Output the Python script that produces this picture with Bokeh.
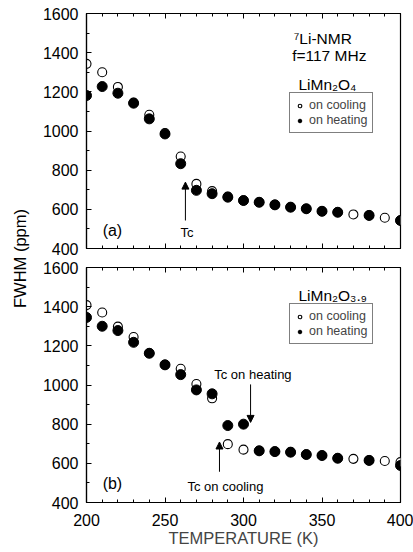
import math
from bokeh.plotting import figure
from bokeh.layouts import row, column
from bokeh.models import (Range1d, Label, Arrow, NormalHead, Legend, LegendItem,
                          LinearAxis, SingleIntervalTicker)
from bokeh.embed import file_html
from bokeh.resources import INLINE

nan = float("nan")

# ---- data ----
temps = [200, 210, 220, 230, 240, 250, 260, 270, 280, 290, 300,
         310, 320, 330, 340, 350, 360, 370, 380, 390, 400]

# (a) LiMn2O4
a_cooling = [1343, 1300, 1225, 1145, 1083, 990, 870, 730, 693, 665, 645,
             636, 623, 611, 603, 590, 585, 574, 569, 557, 543]
a_heating = [1181, 1227, 1193, 1142, 1062, 985, 833, 697, 680, 662, 645,
             636, 623, 611, 603, 590, 585, nan, 569, nan, 543]

# (b) LiMn2O3.9
b_cooling = [1408, 1370, 1298, 1245, 1162, 1103, 1083, 1005, 932, 698, 670,
             664, 660, 657, 645, 640, 626, 623, 615, 612, 606]
b_heating = [1345, 1300, 1278, 1218, 1162, 1103, 1053, 975, 955, 793, 800,
             664, 660, 657, 645, 640, 626, nan, 615, nan, 589]

x_major_ticks = [200, 250, 300, 350, 400]
x_range_vals = (200, 400)
y_range_vals = (400, 1600)
x_tick_step = 50
y_tick_step = 200

FONT = "Liberation Sans"


def style_axis(ax, labels=True, size="16px"):
    ax.major_tick_in = 5
    ax.major_tick_out = 0
    ax.minor_tick_in = 3
    ax.minor_tick_out = 0
    ax.axis_line_color = "black"
    ax.axis_line_width = 1.2
    ax.major_tick_line_color = "black"
    ax.minor_tick_line_color = "black"
    ax.major_label_text_font = FONT
    ax.major_label_text_color = "black"
    if labels:
        ax.major_label_text_font_size = size
    else:
        ax.major_label_text_font_size = "1px"
        ax.major_label_overrides = {t: "" for t in x_major_ticks}
        ax.major_label_standoff = 0


def make_panel(height, btop, bbottom, cooling, heating, show_x):
    p = figure(width=383, height=height,
               x_range=Range1d(*x_range_vals), y_range=Range1d(*y_range_vals),
               output_backend="svg", toolbar_location=None,
               min_border_left=56, min_border_right=13,
               min_border_top=btop, min_border_bottom=bbottom)
    p.grid.visible = False
    p.outline_line_color = "black"
    p.outline_line_width = 1.2
    p.background_fill_color = "white"
    p.border_fill_color = "white"

    p.xaxis.ticker = SingleIntervalTicker(interval=x_tick_step, num_minor_ticks=5)
    p.yaxis.ticker = SingleIntervalTicker(interval=y_tick_step, num_minor_ticks=2)
    style_axis(p.yaxis[0], True)
    p.yaxis.major_label_standoff = 8
    style_axis(p.xaxis[0], show_x)
    if show_x:
        p.xaxis.major_label_standoff = 11
        p.xaxis.axis_label = "TEMPERATURE (K)"
        p.xaxis.axis_label_text_font = FONT
        p.xaxis.axis_label_text_font_style = "normal"
        p.xaxis.axis_label_text_font_size = "16.5px"
        p.xaxis.axis_label_standoff = 0

    top = LinearAxis(ticker=SingleIntervalTicker(interval=x_tick_step, num_minor_ticks=5))
    style_axis(top, False)
    p.add_layout(top, "above")

    r_open = p.scatter(temps, cooling, size=9, marker="circle",
                       fill_color="white", line_color="black", line_width=1.1)
    r_fill = p.scatter(temps, heating, size=10, marker="circle",
                       fill_color="black", line_color="black", line_width=1)
    return p, r_open, r_fill


def add_legend(p, r_open, r_fill, loc):
    leg = Legend(items=[LegendItem(label="on cooling", renderers=[r_open]),
                        LegendItem(label="on heating", renderers=[r_fill])],
                 location=loc, orientation="vertical",
                 label_text_font=FONT, label_text_font_size="12.5px",
                 glyph_width=9, glyph_height=9, label_height=12,
                 label_standoff=5, spacing=1, padding=5, margin=0,
                 border_line_color="black", border_line_width=1,
                 background_fill_color="white", background_fill_alpha=1)
    p.add_layout(leg)


def txt(p, x, y, s, size="15.5px", align="left"):
    p.add_layout(Label(x=x, y=y, text=s, text_font=FONT, text_font_size=size,
                       text_align=align, text_baseline="middle", text_color="black"))


def arrow(p, x, y0, y1):
    p.add_layout(Arrow(end=NormalHead(size=7, fill_color="black", line_color="black",
                                      line_width=1),
                       x_start=x, y_start=y0, x_end=x, y_end=y1,
                       line_color="black", line_width=1))


# top panel (a)
p1, o1, f1 = make_panel(257, 13, 9, a_cooling, a_heating, False)
add_legend(p1, o1, f1, (203, 115))
txt(p1, 332, 1472, "\u2077Li-NMR")
txt(p1, 331, 1386, "f=117 MHz")
txt(p1, 335, 1237, "LiMn\u2082O\u2084")
txt(p1, 216.5, 492, "(a)", size="16px", align="center")
txt(p1, 264, 483, "Tc", size="13px", align="center")
arrow(p1, 263, 543, 739)

# bottom panel (b)
p2, o2, f2 = make_panel(295, 10, 50, b_cooling, b_heating, True)
add_legend(p2, o2, f2, (203, 158))
txt(p2, 335, 1458, "LiMn\u2082O\u2083.\u2089")
txt(p2, 216.5, 496, "(b)", size="16px", align="center")
txt(p2, 306, 1053, "Tc on heating", size="13px", align="center")
txt(p2, 288.5, 481, "Tc on cooling", size="13px", align="center")
arrow(p2, 304.5, 1003, 809)
arrow(p2, 284.7, 557, 709)

# shared y label
lab = figure(width=30, height=552, x_range=Range1d(0, 30), y_range=Range1d(0, 552),
             output_backend="svg", toolbar_location=None, min_border=0,
             x_axis_type=None, y_axis_type=None)
lab.grid.visible = False
lab.outline_line_color = None
lab.add_layout(Label(x=19, y=552 - 258, text="FWHM (ppm)", angle=math.pi / 2,
                     text_font=FONT, text_font_size="16.5px", text_align="center",
                     text_baseline="alphabetic", text_color="black"))

layout = row(lab, column(p1, p2))

open("out.html", "w").write(file_html(layout, INLINE))
